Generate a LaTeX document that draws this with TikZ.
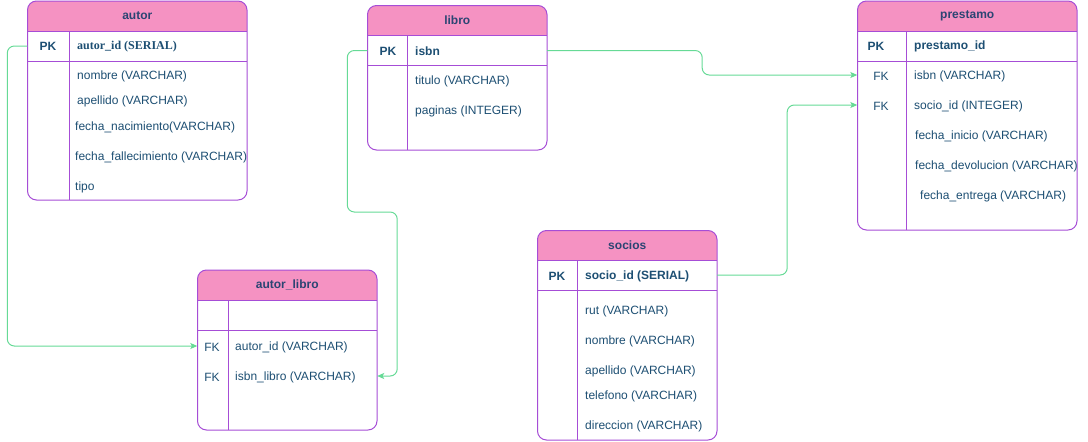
\documentclass[tikz,border=0pt]{standalone}
\usepackage{fontspec}
\setmainfont{Liberation Sans}
\newfontfamily\keyserif{Liberation Serif}
\usetikzlibrary{arrows.meta}

\definecolor{hdrpink}{HTML}{F592C2}
\definecolor{frame}{HTML}{A64DD6}
\definecolor{fieldtxt}{HTML}{1D4F73}
\definecolor{titletxt}{HTML}{2B4573}
\definecolor{linkgreen}{HTML}{66DA96}

\tikzset{
  field/.style={anchor=west, text=fieldtxt, inner sep=0pt, yshift=-1pt, font=\fontsize{12}{14}\selectfont},
  keyfield/.style={field, font=\bfseries\fontsize{12}{14}\selectfont},
  tag/.style={text=fieldtxt, inner sep=0pt, yshift=-1pt, font=\fontsize{12}{14}\selectfont},
  keytag/.style={tag, font=\bfseries\fontsize{12}{14}\selectfont},
  tabletitle/.style={text=titletxt, inner sep=0pt, font=\bfseries\fontsize{12}{14}\selectfont},
  rowslot/.style={draw=none, inner sep=0pt, minimum height=30pt},
  fklink/.style={draw=linkgreen, line width=1pt, rounded corners=7pt,
    -{Stealth[length=7pt,width=6pt,inset=1.5pt]}}
}

% #1 name, #2 left, #3 top, #4 right, #5 bottom,
% #6 header bottom, #7 key row bottom, #8 divider x, #9 title
\newcommand\ertable[9]{%
  \begin{scope}
    \clip[rounded corners=9pt] (#2,#3) rectangle (#4,#5);
    \fill[white] (#2,#3) rectangle (#4,#5);
    \fill[hdrpink] (#2,#3) rectangle (#4,#6);
  \end{scope}
  \draw[frame, line width=1pt, rounded corners=9pt] (#2,#3) rectangle (#4,#5);
  \draw[frame, line width=1pt] (#2,#6) -- (#4,#6) (#2,#7) -- (#4,#7) (#8,#6) -- (#8,#5);
  \node[tabletitle] (#1) at ({(#2+#4)/2},{(#3+#6)/2}) {#9};
}

\begin{document}
\begin{tikzpicture}[x=1pt, y=-1pt]
\useasboundingbox (0,0) rectangle (1088,442);

% ---------- autor ----------
\ertable{autor}{27.5}{1}{247}{200}{31}{61}{69}{autor}
\node[rowslot, minimum width=219.5pt] (autorpk) at (137.25,46) {};
\node[keytag] at (48,45) {PK};
\node[field, font=\keyserif\bfseries\fontsize{12}{14}\selectfont] at (77,46) {autor\_id (SERIAL)};
\node[field] at (77,75) {nombre (VARCHAR)};
\node[field] at (77,100) {apellido (VARCHAR)};
\node[field] at (75,126) {fecha\_nacimiento(VARCHAR)};
\node[field] at (75,156) {fecha\_fallecimiento (VARCHAR)};
\node[field] at (75,186) {tipo};

% ---------- libro ----------
\ertable{libro}{367.5}{5.5}{547}{150}{35.5}{65.5}{407.5}{libro}
\node[rowslot, minimum width=179.5pt] (libropk) at (457.25,50.5) {};
\node[keytag] at (388,50) {PK};
\node[keyfield] at (415,50) {isbn};
\node[field] at (415,80) {titulo (VARCHAR)};
\node[field] at (415,110) {paginas (INTEGER)};

% ---------- prestamo ----------
\ertable{prestamo}{857.5}{1}{1077}{230}{31}{61}{906}{prestamo}
\node[keytag] at (876,45) {PK};
\node[keyfield] at (914,45) {prestamo\_id};
\node[rowslot, minimum width=219.5pt] (prfkisbn) at (967.25,75) {};
\node[rowslot, minimum width=219.5pt] (prfksocio) at (967.25,105) {};
\node[tag] at (881,75) {FK};
\node[field] at (914,75) {isbn (VARCHAR)};
\node[tag] at (881,105) {FK};
\node[field] at (914,105) {socio\_id (INTEGER)};
\node[field] at (915,135) {fecha\_inicio (VARCHAR)};
\node[field] at (915,165) {fecha\_devolucion (VARCHAR)};
\node[field] at (920,195) {fecha\_entrega (VARCHAR)};

% ---------- autor_libro ----------
\ertable{autorlibro}{197.5}{270}{377}{430}{300.5}{330.5}{228}{autor\_libro}
\node[rowslot, minimum width=179.5pt] (alfkautor) at (287.25,346) {};
\node[rowslot, minimum width=179.5pt] (alfkisbn) at (287.25,376) {};
\node[tag] at (212,346) {FK};
\node[field] at (235,346) {autor\_id (VARCHAR)};
\node[tag] at (212,376) {FK};
\node[field] at (235,376) {isbn\_libro (VARCHAR)};

% ---------- socios ----------
\ertable{socios}{537.5}{230.5}{717}{440}{260.5}{290.5}{577}{socios}
\node[rowslot, minimum width=179.5pt] (sociospk) at (627.25,275) {};
\node[keytag] at (557,275) {PK};
\node[keyfield] at (585,275) {socio\_id (SERIAL)};
\node[field] at (585,310) {rut (VARCHAR)};
\node[field] at (585,340) {nombre (VARCHAR)};
\node[field] at (585,370) {apellido (VARCHAR)};
\node[field] at (585,395) {telefono (VARCHAR)};
\node[field] at (585,425) {direccion (VARCHAR)};

% ---------- foreign key links ----------
\draw[fklink] (autorpk.west) -- ++(-20,0) |- (alfkautor.west);
\draw[fklink] (libropk.west) -- ++(-20,0) -- ++(0,161.5) -| ([xshift=20pt]alfkisbn.east) -- (alfkisbn.east);
\draw[fklink] (libropk.east) -- ++(155,0) |- (prfkisbn.west);
\draw[fklink] (sociospk.east) -- ++(70,0) |- (prfksocio.west);
\end{tikzpicture}
\end{document}
